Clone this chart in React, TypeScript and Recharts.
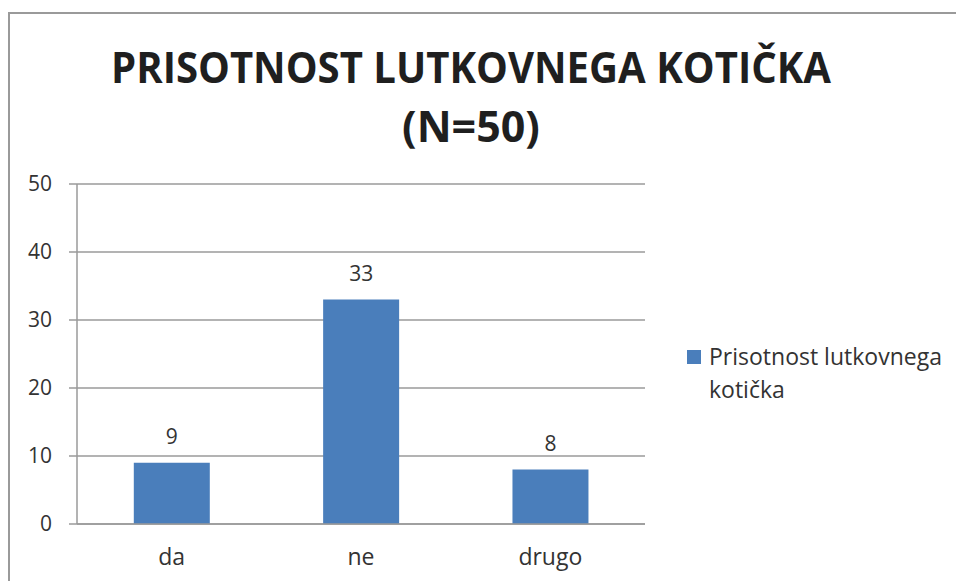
import { Bar, BarChart, CartesianGrid, LabelList, XAxis, YAxis } from "recharts";

const categories = ["da", "ne", "drugo"];
const counts = [9, 33, 8];
const yTicks = [0, 10, 20, 30, 40, 50];
const edgeTicks = [0, 1, 2, 3];
const seriesName = "Prisotnost lutkovnega kotička";
const titleLines = ["PRISOTNOST LUTKOVNEGA KOTIČKA", "(N=50)"];

const BLUE = "#4A7EBB";
const GRAY = "#9a9a9a";
const TEXT = "#333333";
const FONT = "'Open Sans', sans-serif";

function LegendBox({ label }: { label: string }) {
  const words = label.split(" ");
  return (
    <div style={{ display: "flex", alignItems: "flex-start", fontFamily: FONT, fontSize: 23, color: TEXT, lineHeight: "33px" }}>
      <span style={{ width: 14, height: 14, background: BLUE, marginTop: 10, marginRight: 8, flex: "none" }} />
      <span>
        {words.slice(0, 2).join(" ")}
        <br />
        {words.slice(2).join(" ")}
      </span>
    </div>
  );
}

export default function App() {
  const data = categories.map((c, i) => ({ name: c, value: counts[i] }));

  return (
    <div style={{ position: "fixed", left: 0, top: 0, width: 956, height: 581, overflow: "hidden", background: "#fff" }}>
      <style>{"html,body{overflow:hidden;margin:0}"}</style>
      {/* chart frame: only the top and left edges fall inside the window */}
      <div style={{ position: "absolute", left: 8, top: 12, width: 948, height: 2, background: GRAY }} />
      <div style={{ position: "absolute", left: 8, top: 12, width: 2, height: 569, background: GRAY }} />
      <svg width={956} height={160} style={{ position: "absolute", left: 0, top: 0 }}>
        <text
          x={471}
          y={83}
          textAnchor="middle"
          fontFamily={FONT}
          fontWeight={700}
          fontSize={43}
          fill="#1f1f1f"
          textLength={720}
          lengthAdjust="spacingAndGlyphs"
        >
          {titleLines[0]}
        </text>
        <text x={471} y={142} textAnchor="middle" fontFamily={FONT} fontWeight={700} fontSize={43} fill="#1f1f1f">
          {titleLines[1]}
        </text>
      </svg>
      <div style={{ position: "absolute", left: 0, top: 0 }}>
        <BarChart width={956} height={581} data={data} margin={{ top: 184, right: 311, bottom: 0, left: 0 }} barCategoryGap="30%">
          <CartesianGrid horizontal vertical={false} stroke={GRAY} strokeWidth={1.5} />
          <XAxis
            xAxisId="edges"
            type="number"
            domain={[0, 3]}
            ticks={edgeTicks}
            height={0}
            tick={false}
            tickSize={8}
            tickLine={{ stroke: GRAY, strokeWidth: 1.5 }}
            axisLine={false}
          />
          <XAxis
            dataKey="name"
            height={57}
            tickLine={false}
            tickSize={0}
            tickMargin={25}
            axisLine={{ stroke: GRAY, strokeWidth: 1.5 }}
            tick={{ fill: TEXT, fontFamily: FONT, fontSize: 23 }}
          />
          <YAxis
            width={77}
            domain={[0, 50]}
            ticks={yTicks}
            interval={0}
            tickSize={8}
            tickMargin={17}
            axisLine={{ stroke: GRAY, strokeWidth: 1.5 }}
            tickLine={{ stroke: GRAY, strokeWidth: 1.5 }}
            tick={{ fill: TEXT, fontFamily: FONT, fontSize: 21 }}
          />
          <Bar dataKey="value" name={seriesName} fill={BLUE} isAnimationActive={false}>
            <LabelList dataKey="value" position="top" offset={19} fill={TEXT} fontFamily={FONT} fontSize={21} />
          </Bar>
        </BarChart>
      </div>
      <div style={{ position: "absolute", left: 687, top: 340 }}>
        <LegendBox label={seriesName} />
      </div>
    </div>
  );
}
